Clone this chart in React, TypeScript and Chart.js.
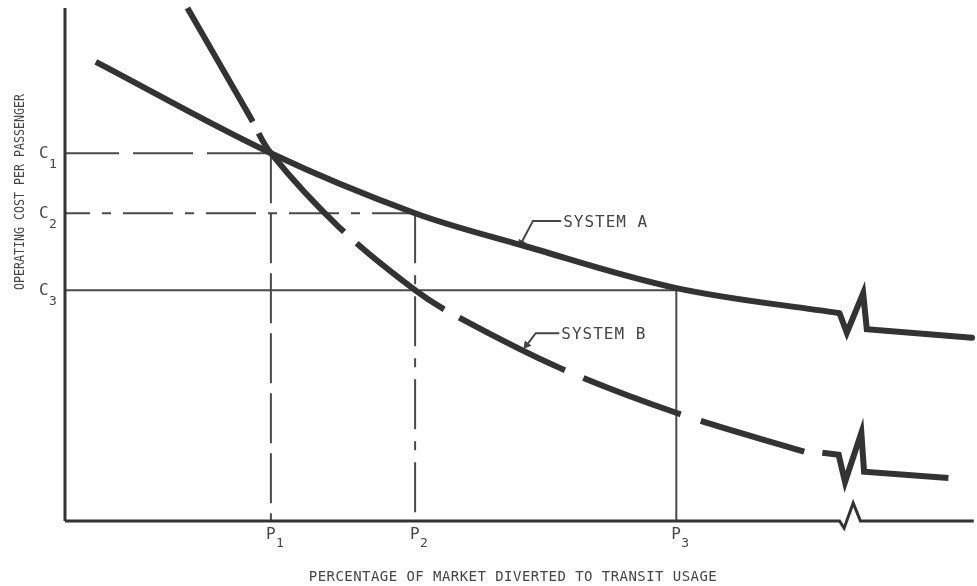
import React, { useEffect, useRef } from 'react';
import { Chart, registerables } from 'chart.js';

Chart.register(...registerables);

// ---- Text ----
const Y_TITLE = 'OPERATING COST PER PASSENGER';
const X_TITLE = 'PERCENTAGE OF MARKET DIVERTED TO TRANSIT USAGE';
const C_TICK = 'C';
const P_TICK = 'P';
const C_SUBS = ['1', '2', '3'];
const P_SUBS = ['1', '2', '3'];
const SERIES_LABELS = ['SYSTEM A', 'SYSTEM B'];

// ---- Tick values (arbitrary units 0..100) ----
const C_VALUES = [71.7, 60.0, 45.0];
const P_VALUES = [22.7, 38.6, 67.4];

// ---- System A (solid) ----
const A_X = [3.4, 22.7, 38.6, 50.3, 67.4, 85.4];
const A_Y = [89.5, 71.7, 60.0, 53.8, 45.4, 40.5];
const A_BREAK_X = [85.4, 86.2, 88.0, 88.4, 100];
const A_BREAK_Y = [40.5, 36.7, 44.4, 37.4, 35.7];

// ---- System B (dashed) ----
const B_X = [13.5, 20.4, 22.7, 30.2, 38.6, 43.3, 54.6, 67.7, 81.5];
const B_Y = [100.0, 78.8, 71.7, 57.3, 45.0, 39.8, 29.8, 20.9, 13.5];
const B_BREAK_X = [83.5, 85.3, 86.0, 87.8, 88.1, 97.4];
const B_BREAK_Y = [13.3, 12.9, 7.6, 17.2, 9.6, 8.4];

// ---- Axes ----
const X_AXIS_X = [0, 85.4, 85.9, 86.9, 87.7, 100.2];
const X_AXIS_Y = [0, 0, -1.4, 3.5, 0, 0];
const Y_AXIS_X = [0, 0];
const Y_AXIS_Y = [0, 100];

// ---- Leaders for labels ----
const LEADER_A_X = [54.7, 51.6, 50.3];
const LEADER_A_Y = [58.5, 58.5, 54.2];
const LEADER_B_X = [54.5, 51.9, 50.9];
const LEADER_B_Y = [36.6, 36.6, 34.3];

const MONO = '"DejaVu Sans Mono", monospace';
const CURVE = '#333333';
const THIN = '#4a4a4a';
const TEXT = '#454545';

const pts = (xs: number[], ys: number[]) => xs.map((x, i) => ({ x, y: ys[i] }));

const arrowRotation = (c: any) => {
  const d = c.dataset.data;
  const i = c.dataIndex;
  if (i === 0) return 0;
  const xs = c.chart.scales.x;
  const ys = c.chart.scales.y;
  const dx = xs.getPixelForValue(d[i].x) - xs.getPixelForValue(d[i - 1].x);
  const dy = ys.getPixelForValue(d[i].y) - ys.getPixelForValue(d[i - 1].y);
  return (Math.atan2(dx, -dy) * 180) / Math.PI;
};

const textPlugin = {
  id: 'drawingTexts',
  beforeDraw(chart: any) {
    const { ctx, width, height } = chart;
    ctx.save();
    ctx.fillStyle = '#ffffff';
    ctx.fillRect(0, 0, width, height);
    ctx.restore();
  },
  afterDatasetsDraw(chart: any) {
    const { ctx } = chart;
    const xs = chart.scales.x;
    const ys = chart.scales.y;
    const x0 = xs.getPixelForValue(0);
    const y0 = ys.getPixelForValue(0);
    ctx.save();
    ctx.fillStyle = TEXT;
    ctx.textAlign = 'left';
    ctx.textBaseline = 'alphabetic';

    C_VALUES.forEach((v, i) => {
      const py = ys.getPixelForValue(v);
      ctx.font = `16px ${MONO}`;
      ctx.fillText(C_TICK, x0 - 26, py + 5);
      ctx.font = `13px ${MONO}`;
      ctx.fillText(C_SUBS[i], x0 - 16, py + 15);
    });

    P_VALUES.forEach((v, i) => {
      const px = xs.getPixelForValue(v);
      ctx.font = `16px ${MONO}`;
      ctx.fillText(P_TICK, px - 5, y0 + 18);
      ctx.font = `13px ${MONO}`;
      ctx.fillText(P_SUBS[i], px + 5, y0 + 26);
    });

    // Series labels
    const anchors = [
      { x: LEADER_A_X[0], y: LEADER_A_Y[0] },
      { x: LEADER_B_X[0], y: LEADER_B_Y[0] },
    ];
    ctx.font = `16px ${MONO}`;
    (ctx as any).letterSpacing = '1px';
    anchors.forEach((a, i) => {
      ctx.fillText(SERIES_LABELS[i], xs.getPixelForValue(a.x) + 2, ys.getPixelForValue(a.y) + 6);
    });

    // X title
    ctx.font = `14px ${MONO}`;
    (ctx as any).letterSpacing = '0.45px';
    ctx.textAlign = 'center';
    ctx.fillText(X_TITLE, 513, 581);

    // Y title (condensed)
    ctx.translate(20, 192);
    ctx.rotate(-Math.PI / 2);
    ctx.scale(0.83, 1);
    ctx.font = `14px ${MONO}`;
    (ctx as any).letterSpacing = '0px';
    ctx.textBaseline = 'middle';
    ctx.fillText(Y_TITLE, 0, 0);
    ctx.restore();
  },
};

export default function App() {
  const ref = useRef<HTMLCanvasElement | null>(null);

  useEffect(() => {
    if (!ref.current) return;
    const line = (data: any, extra: any = {}) => ({
      data,
      showLine: true,
      fill: false,
      clip: false,
      pointRadius: 0,
      borderColor: THIN,
      borderWidth: 2,
      tension: 0,
      ...extra,
    });

    const datasets: any[] = [
      line(pts(A_X, A_Y), { borderColor: CURVE, borderWidth: 6, tension: 0.35 }),
      line(pts(A_BREAK_X, A_BREAK_Y), { borderColor: CURVE, borderWidth: 6, borderCapStyle: 'round' }),
      line(pts(B_X, B_Y), {
        borderColor: CURVE,
        borderWidth: 6,
        tension: 0.35,
        borderDash: [131, 13, 131, 17, 110, 17, 118, 20, 104, 21, 111, 60],
      }),
      line(pts(B_BREAK_X, B_BREAK_Y), { borderColor: CURVE, borderWidth: 6 }),
      line(pts(X_AXIS_X, X_AXIS_Y), { borderColor: CURVE, borderWidth: 3 }),
      line(pts(Y_AXIS_X, Y_AXIS_Y), { borderColor: CURVE, borderWidth: 3 }),
      // C1 / P1 dashed
      line(pts([0, P_VALUES[0]], [C_VALUES[0], C_VALUES[0]]), { borderDash: [60, 14], borderDashOffset: 6 }),
      line(pts([P_VALUES[0], P_VALUES[0]], [C_VALUES[0], 0]), { borderDash: [50, 10] }),
      // C2 / P2 dash-dot
      line(pts([0, P_VALUES[1]], [C_VALUES[1], C_VALUES[1]]), { borderDash: [50, 12, 9, 12], borderDashOffset: 25 }),
      line(pts([P_VALUES[1], P_VALUES[1]], [C_VALUES[1], 0]), { borderDash: [50, 12, 9, 12] }),
      // C3 / P3 solid
      line(pts([0, P_VALUES[2]], [C_VALUES[2], C_VALUES[2]])),
      line(pts([P_VALUES[2], P_VALUES[2]], [C_VALUES[2], 0])),
      // Leaders
      line(pts(LEADER_A_X, LEADER_A_Y), {
        borderColor: TEXT,
        pointStyle: 'triangle',
        pointRadius: (c: any) => (c.dataIndex === c.dataset.data.length - 1 ? 4 : 0),
        pointRotation: arrowRotation,
        pointBackgroundColor: TEXT,
        pointBorderColor: TEXT,
        pointBorderWidth: 1,
      }),
      line(pts(LEADER_B_X, LEADER_B_Y), {
        borderColor: TEXT,
        pointStyle: 'triangle',
        pointRadius: (c: any) => (c.dataIndex === c.dataset.data.length - 1 ? 4 : 0),
        pointRotation: arrowRotation,
        pointBackgroundColor: TEXT,
        pointBorderColor: TEXT,
        pointBorderWidth: 1,
      }),
    ];

    const chart = new Chart(ref.current, {
      type: 'scatter',
      data: { datasets },
      options: {
        animation: false,
        responsive: false,
        maintainAspectRatio: false,
        devicePixelRatio: 1,
        layout: { padding: { left: 65, right: 2, top: 8, bottom: 65 } },
        scales: {
          x: { type: 'linear', min: 0, max: 100, display: false },
          y: { type: 'linear', min: 0, max: 100, display: false },
        },
        plugins: { legend: { display: false }, tooltip: { enabled: false } },
      },
      plugins: [textPlugin],
    } as any);

    return () => chart.destroy();
  }, []);

  return (
    <div style={{ position: 'absolute', left: 0, top: 0, width: 977, height: 586 }}>
      <canvas ref={ref} width={977} height={586} style={{ display: 'block', width: 977, height: 586 }} />
    </div>
  );
}
